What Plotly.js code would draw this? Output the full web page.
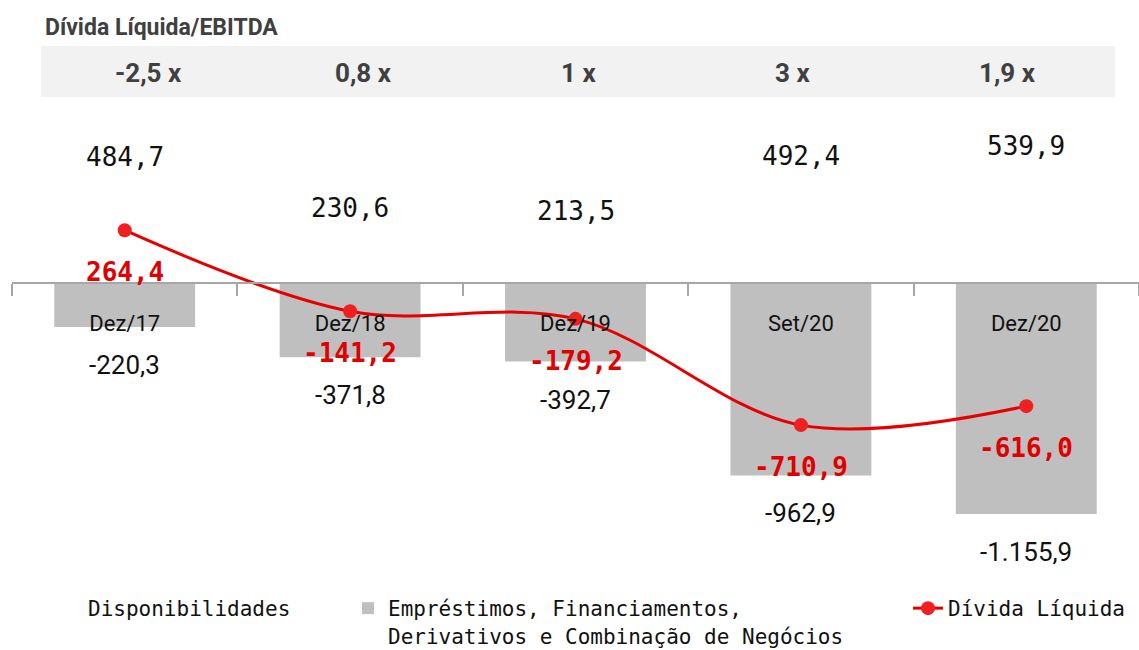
<!DOCTYPE html>
<html>
<head>
<meta charset="utf-8">
<script src="https://cdn.plot.ly/plotly-3.0.1.min.js"></script>
<style>html,body{margin:0;padding:0;background:#fff;}#chart{width:1139px;height:650px;}</style>
</head>
<body>
<div id="chart"></div>
<script>
const categories = ['Dez/17', 'Dez/18', 'Dez/19', 'Set/20', 'Dez/20'];
const disponibilidades = [484.7, 230.6, 213.5, 492.4, 539.9];
const emprestimos = [-220.3, -371.8, -392.7, -962.9, -1155.9];
const dividaLiquida = [264.4, -141.2, -179.2, -710.9, -616.0];
const multiplos = ['-2,5 x', '0,8 x', '1 x', '3 x', '1,9 x'];

function fmt(v) {
  const neg = v < 0;
  const s = Math.abs(v).toFixed(1).split('.');
  const intPart = s[0].replace(/\B(?=(\d{3})+(?!\d))/g, '.');
  return (neg ? '-' : '') + intPart + ',' + s[1];
}

const W = 1139, H = 650;
const ML = 12, MR = 0;
const yMin = -1461, yMax = 891;
const zeroPos = (0 - yMin) / (yMax - yMin);
const bandL = (41 - ML) / (W - ML - MR), bandR = (1115 - ML) / (W - ML - MR);

const traces = [
  {
    type: 'bar', name: 'Disponibilidades', x: categories, y: disponibilidades,
    marker: {color: '#ffffff'}, legend: 'legend', hoverinfo: 'skip'
  },
  {
    type: 'bar', name: 'Empréstimos, Financiamentos,<br>Derivativos e Combinação de Negócios',
    x: categories, y: emprestimos,
    marker: {color: '#bfbfbf'}, legend: 'legend2', hoverinfo: 'skip'
  },
  {
    type: 'scatter', mode: 'lines+markers', name: 'Dívida Líquida',
    x: categories, y: dividaLiquida,
    line: {color: '#e60000', width: 3, shape: 'spline', smoothing: 1},
    marker: {color: '#f02020', size: 14},
    legend: 'legend3', hoverinfo: 'skip'
  }
];

const annotations = [];
categories.forEach((c, i) => {
  annotations.push({
    x: c, y: disponibilidades[i], xref: 'x', yref: 'y', yshift: 29, yanchor: 'middle',
    text: fmt(disponibilidades[i]), showarrow: false,
    font: {family: 'DejaVu Sans Mono', size: 26, color: '#111111'}
  });
  annotations.push({
    x: c, y: emprestimos[i], xref: 'x', yref: 'y', yshift: -38, yanchor: 'middle',
    text: fmt(emprestimos[i]), showarrow: false,
    font: {family: 'Roboto', size: 26, color: '#111111'}
  });
  annotations.push({
    x: c, y: dividaLiquida[i], xref: 'x', yref: 'y', yshift: -42, yanchor: 'middle',
    text: fmt(dividaLiquida[i]), showarrow: false,
    font: {family: 'DejaVu Sans Mono', size: 26, color: '#e00000', weight: 'bold'}
  });
  annotations.push({
    x: bandL + (i + 0.5) * (bandR - bandL) / multiplos.length, y: 1.068,
    xref: 'paper', yref: 'paper', xanchor: 'center', yanchor: 'middle',
    text: multiplos[i], showarrow: false,
    font: {family: 'Roboto', size: 26, color: '#404040', weight: 'bold'}
  });
});

const legendFont = {family: 'DejaVu Sans Mono', size: 21, color: '#111111'};
const legendTop = 1 - 588 / H;
const layout = {
  width: W, height: H,
  margin: {l: ML, r: MR, t: 105, b: 75},
  paper_bgcolor: '#ffffff', plot_bgcolor: '#ffffff',
  barmode: 'relative', bargap: 0.375,
  title: {
    text: 'Dívida Líquida/EBITDA', xref: 'container', yref: 'container',
    x: 45 / W, xanchor: 'left', y: 1 - 27 / H, yanchor: 'middle',
    font: {family: 'Roboto', size: 23, color: '#404040', weight: 'bold'}
  },
  xaxis: {
    type: 'category', anchor: 'free', position: zeroPos, side: 'bottom',
    showline: true, linecolor: '#a6a6a6', linewidth: 2,
    ticks: 'outside', tickson: 'boundaries', ticklen: 12, tickcolor: '#a6a6a6', tickwidth: 2,
    ticklabelstandoff: 21,
    tickfont: {family: 'Roboto', size: 22, color: '#111111'},
    showgrid: false, zeroline: false, fixedrange: true
  },
  yaxis: {
    range: [yMin, yMax], visible: false, showgrid: false, zeroline: false, fixedrange: true
  },
  shapes: [{
    type: 'rect', xref: 'paper', yref: 'paper', layer: 'below',
    x0: bandL, x1: bandR, y0: 1.017, y1: 1.1255,
    fillcolor: '#f2f2f2', line: {width: 0}
  }],
  annotations: annotations,
  showlegend: true,
  legend: {xref: 'container', yref: 'container', x: 48 / W, y: legendTop, yanchor: 'top', xanchor: 'left',
    orientation: 'h', font: legendFont, bgcolor: 'rgba(0,0,0,0)'},
  legend2: {xref: 'container', yref: 'container', x: 348 / W, y: legendTop, yanchor: 'top', xanchor: 'left',
    orientation: 'h', font: legendFont, valign: 'top', bgcolor: 'rgba(0,0,0,0)'},
  legend3: {xref: 'container', yref: 'container', x: 908 / W, y: legendTop, yanchor: 'top', xanchor: 'left',
    orientation: 'h', font: legendFont, bgcolor: 'rgba(0,0,0,0)'}
};

Plotly.newPlot('chart', traces, layout, {displayModeBar: false, staticPlot: true});
</script>
</body>
</html>
